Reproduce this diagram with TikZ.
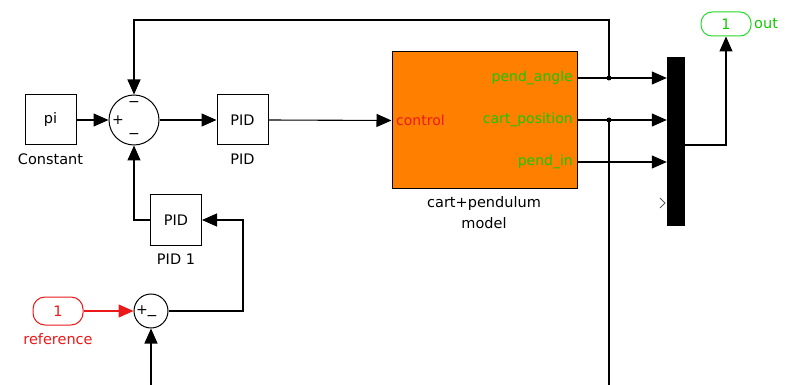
\documentclass[tikz,border=0pt]{standalone}
\usepackage{fontspec}
\setmainfont{DejaVu Sans}
\usetikzlibrary{arrows.meta}
\definecolor{slorange}{RGB}{255,128,0}
\definecolor{slgreen}{RGB}{20,200,0}
\definecolor{slportgreen}{RGB}{40,215,40}
\definecolor{slred}{RGB}{235,25,25}
\begin{document}
\begin{tikzpicture}[x=1pt,y=-1pt,
  blk/.style={draw,line width=1pt,minimum width=51pt,minimum height=50pt,inner sep=0pt,font=\fontsize{14.5}{14}\selectfont},
  lbl/.style={inner sep=0pt,font=\fontsize{14.5}{16}\selectfont},
  plbl/.style={inner sep=0pt,font=\fontsize{14}{16}\selectfont},
  sgn/.style={inner sep=0pt,font=\fontsize{14}{14}\selectfont},
  sumc/.style={draw,circle,line width=1pt,inner sep=0pt},
  sig/.style={line width=1.1pt,-{Triangle[length=15pt,width=13pt]}},
  wire/.style={line width=1.1pt},
  jdot/.style={circle,fill=black,inner sep=0pt,minimum size=5pt}]
\useasboundingbox (0,0) rectangle (785,385);

% blocks
\node[blk] (const) at (50.5,120) {pi};
\node[sumc,minimum size=50pt] (sum) at (134,120) {};
\node[blk] (pid) at (242.5,120) {PID};
\node[blk] (pid1) at (176,220) {PID};
\node[draw,line width=1pt,fill=slorange,minimum width=185pt,minimum height=137pt,inner sep=0pt] (model) at (484.5,120.5) {};
\node[fill=black,minimum width=18pt,minimum height=169pt,inner sep=0pt] (mux) at (676,141.5) {};
\node[draw=slportgreen,line width=1pt,rounded corners=11pt,minimum width=50pt,minimum height=24pt,inner sep=0pt,text=slgreen,font=\fontsize{14.5}{14}\selectfont] (out) at (726,24) {1};
\node[draw=slred,line width=1pt,rounded corners=12pt,minimum width=50pt,minimum height=28pt,inner sep=0pt,text=slred,font=\fontsize{14.5}{14}\selectfont] (ref) at (58,311) {1};
\node[sumc,minimum size=34pt] (sum2) at (151,311) {};

% labels
\node[lbl] (lconst) at (50.5,159) {Constant};
\node[lbl] (lpid) at (242.5,159) {PID};
\node[lbl] (lpid1) at (176,259) {PID 1};
\node[lbl] (lmodel1) at (484,203) {cart+pendulum};
\node[lbl] (lmodel2) at (484,223) {model};
\node[lbl,text=slred] (lref) at (58,339) {reference};
\node[lbl,text=slgreen,anchor=west] (lout) at (754,24) {out};
\node[plbl,text=slred,anchor=west] (lctrl) at (396,120) {control};
\node[plbl,text=slgreen,anchor=east] (lpa) at (573,78) {pend\_angle};
\node[plbl,text=slgreen,anchor=east] (lcp) at (573,120) {cart\_position};
\node[plbl,text=slgreen,anchor=east] (lpi) at (573,162) {pend\_in};

% signs
\node[sgn] (s1) at (118,120) {+};
\node[sgn] (s2) at (134,104) {−};
\node[sgn] (s3) at (134,136) {−};
\node[sgn] (s4) at (142,310) {+};
\node[sgn] (s5) at (152,318) {−};

% mux chevron
\draw[gray!70!black,line width=0.8pt] (660,198) -- (665,203) -- (660,208);

% coordinates
\coordinate (pa) at (577,78);
\coordinate (cp) at (577,120);
\coordinate (pin) at (577,162);
\coordinate (tc) at (609,20);
\coordinate (bc) at (609,385);
\coordinate (mo) at (685,145);
\coordinate (rc) at (243,311);
\coordinate (b2) at (151,385);
\node[jdot] (j1) at (609,78) {};
\node[jdot] (j2) at (609,120) {};

% connectors
\draw[sig] (const.east) -- (sum.west);
\draw[sig] (sum.east) -- (pid.west);
\draw[sig] (pid.east) -- (model.west);
\draw[sig] (pa) -- (mux.west |- pa);
\draw[sig] (cp) -- (mux.west |- cp);
\draw[sig] (pin) -- (mux.west |- pin);
\draw[sig] (j1.center) -- (tc) -| (sum.north);
\draw[wire] (j2.center) -- (bc);
\draw[sig] (mo) -| (out.south);
\draw[sig] (pid1.west) -| (sum.south);
\draw[sig,slred] (ref.east) -- (sum2.west);
\draw[sig] (sum2.east) -- (rc) |- (pid1.east);
\draw[sig] (b2) -- (sum2.south);
\end{tikzpicture}
\end{document}
